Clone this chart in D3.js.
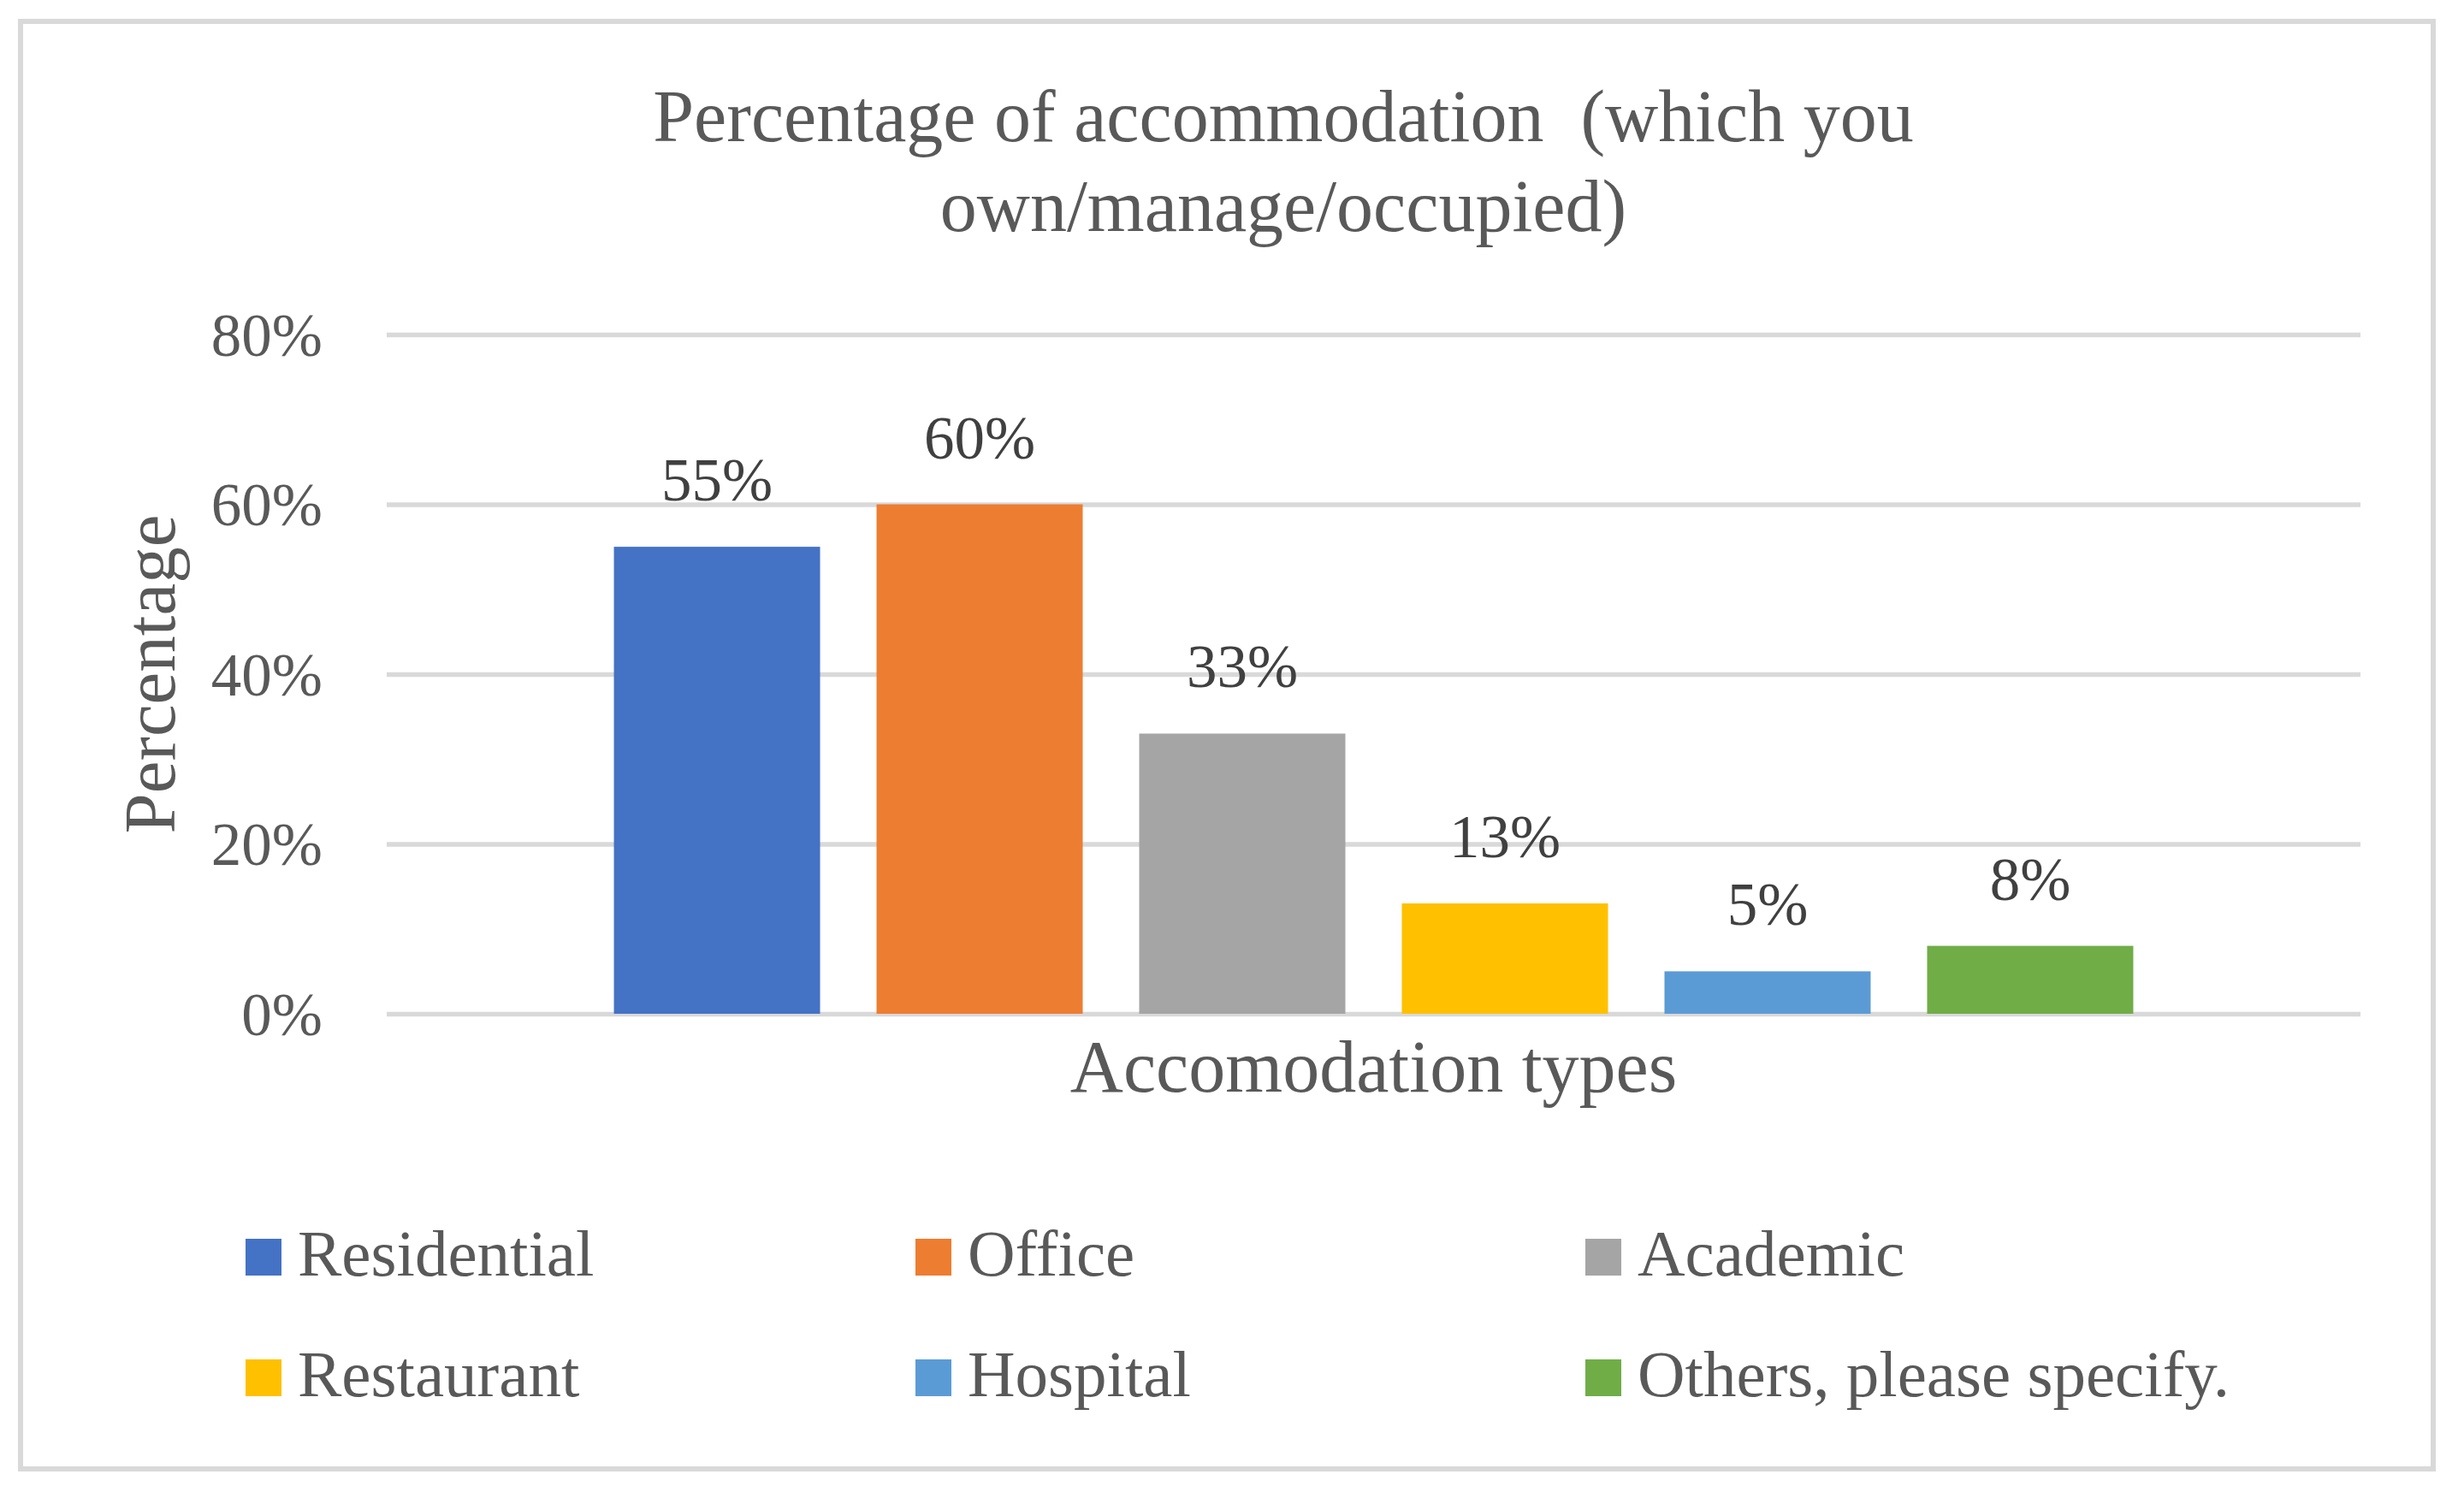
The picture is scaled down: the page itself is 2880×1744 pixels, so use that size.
<!DOCTYPE html>
<html>
<head>
<meta charset="utf-8">
<script src="https://cdn.jsdelivr.net/npm/d3@7"></script>
<style>
  html, body { margin: 0; padding: 0; background: #ffffff; }
  svg { display: block; }
  text { font-family: "Liberation Serif", serif; fill: #595959; }
</style>
</head>
<body>
<svg id="chart" width="2880" height="1744"></svg>
<script>
// ---- data ----
const series = ["Residential", "Office", "Academic", "Restaurant", "Hospital", "Others, please specify."];
const values = [0.55, 0.60, 0.33, 0.13, 0.05, 0.08];
const colors = ["#4472C4", "#ED7D31", "#A5A5A5", "#FFC000", "#5B9BD5", "#70AD47"];
const yTicks = [0, 0.2, 0.4, 0.6, 0.8];
const titleLines = ["Percentage of accommodation  (which you", "own/manage/occupied)"];
const xTitle = "Accomodation types";
const yTitle = "Percentage";

// ---- layout ----
const W = 2880, H = 1744;
const plot = { left: 452, right: 2759, top: 391, bottom: 1185 };

const svg = d3.select("#chart");

// chart border
svg.append("rect")
  .attr("x", 24).attr("y", 25)
  .attr("width", 2820).attr("height", 1692)
  .attr("fill", "#ffffff")
  .attr("stroke", "#D9D9D9")
  .attr("stroke-width", 6);

// scales
const x = d3.scaleBand()
  .domain(series)
  .range([plot.left, plot.right])
  .paddingInner(0.215)
  .paddingOuter(0.865);

const y = d3.scaleLinear()
  .domain([0, 0.8])
  .range([plot.bottom, plot.top]);

// gridlines via axis
const grid = svg.append("g")
  .attr("transform", `translate(${plot.left},0)`)
  .call(d3.axisLeft(y).tickValues(yTicks).tickSize(-(plot.right - plot.left)).tickFormat(""));
grid.select(".domain").remove();
grid.selectAll(".tick line").attr("stroke", "#D9D9D9").attr("stroke-width", 5.5);

// y tick labels via axis
const yAxis = svg.append("g")
  .attr("transform", `translate(377,0)`)
  .call(d3.axisLeft(y).tickValues(yTicks).tickSize(0).tickPadding(0).tickFormat(d3.format(".0%")));
yAxis.select(".domain").remove();
yAxis.selectAll(".tick text")
  .attr("font-family", "Liberation Serif")
  .attr("font-size", 71)
  .attr("fill", "#595959")
  .attr("dy", "0.34em");

// bars
svg.append("g").selectAll("rect")
  .data(series)
  .join("rect")
  .attr("x", d => x(d))
  .attr("width", x.bandwidth())
  .attr("y", (d, i) => y(values[i]))
  .attr("height", (d, i) => y(0) - y(values[i]))
  .attr("fill", (d, i) => colors[i]);

// data labels
svg.append("g").selectAll("text")
  .data(series)
  .join("text")
  .attr("x", d => x(d) + x.bandwidth() / 2)
  .attr("y", (d, i) => y(values[i]) - 54)
  .attr("text-anchor", "middle")
  .attr("font-size", 71)
  .style("fill", "#404040")
  .text((d, i) => d3.format(".0%")(values[i]));

// title
svg.append("g").selectAll("text")
  .data(titleLines)
  .join("text")
  .attr("x", 1500)
  .attr("y", (d, i) => 165 + i * 105)
  .attr("text-anchor", "middle")
  .attr("font-size", 86)
  .style("white-space", "pre")
  .text(d => d);

// x axis title
svg.append("text")
  .attr("x", (plot.left + plot.right) / 2)
  .attr("y", 1276)
  .attr("text-anchor", "middle")
  .attr("font-size", 86)
  .text(xTitle);

// y axis title
svg.append("text")
  .attr("transform", `translate(204,${(plot.top + plot.bottom) / 2}) rotate(-90)`)
  .attr("text-anchor", "middle")
  .attr("font-size", 85)
  .text(yTitle);

// legend
const legendCols = [287, 1070, 1853];
const legendRows = [1491, 1632];
const leg = svg.append("g").selectAll("g")
  .data(series)
  .join("g")
  .attr("transform", (d, i) => `translate(${legendCols[i % 3]},${legendRows[Math.floor(i / 3)]})`);
leg.append("rect")
  .attr("x", 0).attr("y", -43)
  .attr("width", 42).attr("height", 43)
  .attr("fill", (d, i) => colors[i]);
leg.append("text")
  .attr("x", 61).attr("y", 0)
  .attr("font-size", 77)
  .text(d => d);
</script>
</body>
</html>
